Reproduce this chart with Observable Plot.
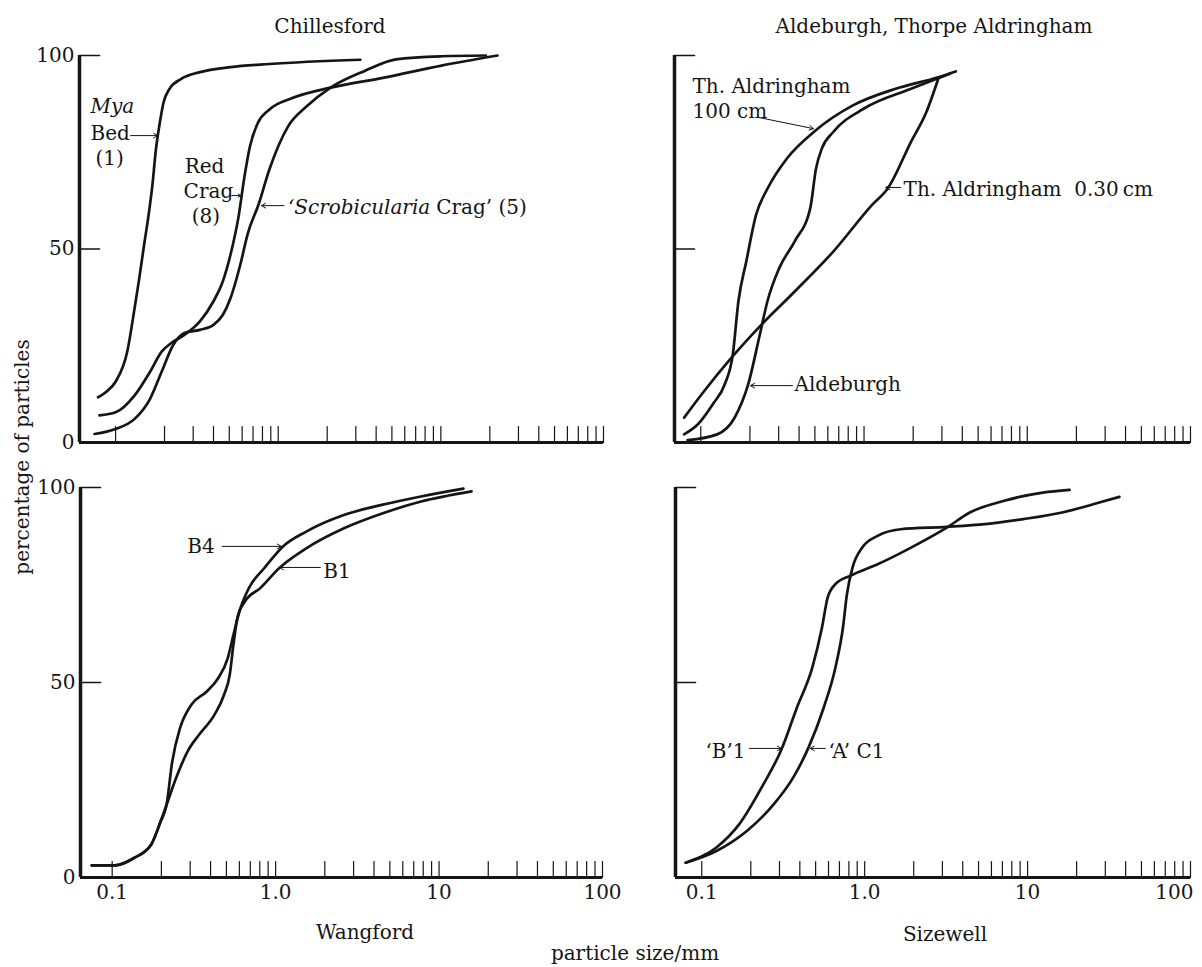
<!DOCTYPE html>
<html>
<head>
<meta charset="utf-8">
<script src="https://cdn.jsdelivr.net/npm/d3@7"></script>
<script src="https://cdn.jsdelivr.net/npm/@observablehq/plot@0.6"></script>
<style>
  html, body { margin: 0; padding: 0; background: #fff; }
  #wrap { position: relative; width: 1202px; height: 967px; overflow: hidden; background: #fff;
          font-family: "DejaVu Serif", serif; color: #151515; }
  .t { position: absolute; font-size: 20px; line-height: 20px; white-space: nowrap; transform: translateX(-50%); }
  .rot { position: absolute; font-size: 20px; line-height: 20px; white-space: nowrap;
         transform: translate(-50%, -50%) rotate(-90deg); }
  .panel { position: absolute; }
</style>
</head>
<body>
<div id="wrap"></div>
<script>
// ---------- axis ticks and labels ----------
const xMinorTicks = [0.1, 0.2, 0.3, 0.4, 0.5, 0.6, 0.7, 0.8, 0.9,
                     1, 2, 3, 4, 5, 6, 7, 8, 9,
                     10, 20, 30, 40, 50, 60, 70, 80, 90, 100];
const xLabelTicks = [0.1, 1, 10, 100];
const xTickLabels = ["0.1", "1.0", "10", "100"];
const yTicks = [0, 50, 100];
const yTickLabels = ["0", "50", "100"];
const yInnerTicks = [50, 100];

// ---------- Chillesford (particle size mm, cumulative %) ----------
const myaBed = [[0.078,11.7],[0.087,13],[0.1,15.7],[0.118,23.5],[0.131,34.8],[0.139,41.7],[0.15,51.3],
  [0.159,58.3],[0.168,66.1],[0.177,75.7],[0.187,82.6],[0.197,87.8],[0.214,91.3],[0.252,93.9],
  [0.33,95.7],[0.51,97],[0.88,97.8],[3.2,98.9]];
const redCrag = [[0.0796,7],[0.1,7.8],[0.131,12.2],[0.163,18.3],[0.192,23.5],[0.22,25.7],[0.265,27.8],
  [0.33,31.3],[0.4,36.5],[0.457,41.7],[0.51,48.7],[0.57,58.3],[0.62,68.7],[0.67,76.5],[0.75,82.6],
  [0.88,86],[1.22,89],[2.1,91.7],[4.48,94.3],[10.1,97.4],[22.3,100]];
const scrobCrag = [[0.0742,2.2],[0.1,3.5],[0.131,6.1],[0.163,11.3],[0.192,18.3],[0.226,25.2],[0.265,28.3],
  [0.33,29.1],[0.4,30.4],[0.457,33],[0.51,37.4],[0.585,46],[0.65,54],[0.76,61.7],[0.88,70.4],
  [1.15,81.7],[1.51,87],[2.1,91.7],[3.4,96],[5.3,99],[10.1,99.8],[18.9,100]];

// ---------- Aldeburgh, Thorpe Aldringham ----------
const aldr100 = [[0.079,2.1],[0.096,4.7],[0.119,10],[0.14,15],[0.157,22.7],[0.17,36.5],[0.19,46.8],
  [0.218,58.8],[0.257,65.7],[0.337,73.4],[0.494,80.3],[0.855,87.1],[1.56,91.4],[2.85,94.4],[3.65,95.9]];
const aldeburgh = [[0.083,0.6],[0.126,2.1],[0.161,6.4],[0.195,15],[0.23,27.9],[0.256,36.5],[0.302,45],
  [0.376,52],[0.468,60.5],[0.508,70.8],[0.552,76],[0.65,80.3],[1.0,86.3],[1.94,91.4],[3.36,95.3]];
const aldr030 = [[0.079,6.4],[0.101,12.4],[0.157,22.3],[0.23,30],[0.376,39],[0.65,49.4],[1.12,61.4],
  [1.4,65.7],[1.94,77.7],[2.41,85.4],[2.85,94]];

// ---------- Wangford ----------
const wangB4 = [[0.075,3.1],[0.104,3.1],[0.136,5],[0.173,8.4],[0.198,14.4],[0.215,18.6],
  [0.233,29.7],[0.26,38.3],[0.305,44.3],[0.379,47.7],[0.445,51.1],[0.509,56.2],[0.552,62.2],
  [0.6,68.2],[0.686,74.2],[0.851,79.3],[1.11,84.9],[1.54,88.7],[2.64,93],[4.53,95.6],[7.76,97.7],[14.1,99.7]];
const wangB1 = [[0.075,3.1],[0.104,3.1],[0.136,5],[0.173,8.4],[0.198,14.4],[0.215,18.6],
  [0.246,25.5],[0.289,32.3],[0.34,36.6],[0.422,41.7],[0.483,46.8],[0.524,52],[0.552,59.7],
  [0.583,66.5],[0.65,70.8],[0.805,74.2],[1.05,79.3],[1.54,84.4],[2.64,89.6],[4.53,93.4],[7.76,96.4],[15.8,99]];

// ---------- Sizewell ----------
const sizeB1 = [[0.0796,3.8],[0.123,7.7],[0.17,13.7],[0.236,23.5],[0.309,32.9],[0.384,43.6],[0.477,53.8],
  [0.547,64.1],[0.593,71.8],[0.661,75.2],[0.821,77.4],[1.2,80.3],[1.85,84.2],[3.19,89.7],[4.42,93.6],
  [7.19,96.6],[12.4,98.7],[18.1,99.4]];
const sizeAC1 = [[0.0796,3.8],[0.123,6.8],[0.19,12],[0.277,18.8],[0.364,25.6],[0.452,33.3],[0.561,43.6],
  [0.661,53.8],[0.736,64.1],[0.778,72.6],[0.843,79.5],[0.966,84.6],[1.2,87.6],[1.66,89.3],[3.19,89.9],
  [5.48,90.6],[9.44,91.9],[16.3,93.6],[27.9,96.2],[36.6,97.6]];

// ---------- curve annotations (data coordinates) ----------
const notesTL = {
  italic: [{x: 0.0701, y: 86.8, t: "Mya"}, {x: 1.147, y: 60.7, t: "\u2018Scrobicularia"}],
  normal: [{x: 0.0701, y: 79.9, t: "Bed"}, {x: 0.0753, y: 73.4, t: "(1)"},
           {x: 0.266, y: 71.3, t: "Red"}, {x: 0.262, y: 64.9, t: "Crag"}, {x: 0.294, y: 58.4, t: "(8)"},
           {x: 9.36, y: 60.7, t: "Crag\u2019 (5)"}],
  arrows: [{x1: 0.1237, y1: 79.3, x2: 0.1815, y2: 79.3},
           {x1: 0.518, y1: 63.8, x2: 0.589, y2: 63.8},
           {x1: 1.084, y1: 61.2, x2: 0.79, y2: 61.2}]
};
const notesTR = {
  italic: [],
  normal: [{x: 0.0889, y: 92, t: "Th. Aldringham"}, {x: 0.0889, y: 85.5, t: "100 cm"},
           {x: 1.746, y: 65.4, t: "Th. Aldringham\u00a0\u00a00.30\u2009cm"},
           {x: 0.375, y: 15, t: "Aldeburgh"}],
  arrows: [{x1: 0.2257, y1: 84, x2: 0.49, y2: 81.1},
           {x1: 1.673, y1: 65.9, x2: 1.36, y2: 65.9},
           {x1: 0.3646, y1: 14.7, x2: 0.2016, y2: 14.7}]
};
const notesBL = {
  italic: [],
  normal: [{x: 0.288, y: 84.9, t: "B4"}, {x: 1.959, y: 78.5, t: "B1"}],
  arrows: [{x1: 0.4717, y1: 84.9, x2: 1.084, y2: 84.9},
           {x1: 1.878, y1: 79.5, x2: 1.053, y2: 79.5}]
};
const notesBR = {
  italic: [],
  normal: [{x: 0.1053, y: 32.3, t: "\u2018B\u20191"}, {x: 0.6, y: 32.3, t: "\u2018A\u2019 C1"}],
  arrows: [{x1: 0.196, y1: 33.1, x2: 0.3078, y2: 33.1},
           {x1: 0.573, y1: 33.1, x2: 0.4634, y2: 33.1}]
};

// ---------- drawing ----------
const ink = "#151515";
const tickShape = {draw(context, l) { context.moveTo(0, 0); context.lineTo(0, -l); }};

function panel({left, top, width, height, ml, mr, mt, mb, xDomain, series, notes, yLabels, xLabels, lastLabelEnd}) {
  const marks = [
    Plot.vector(xMinorTicks, {x: d => d, y: 0, length: 16, anchor: "start", shape: tickShape,
                              stroke: ink, strokeWidth: 1.2}),
    Plot.vector(yInnerTicks, {x: xDomain[0], y: d => d, length: 20, rotate: 90, anchor: "start",
                              shape: tickShape, stroke: ink, strokeWidth: 1.6}),
    Plot.ruleY([0], {stroke: ink, strokeWidth: 3}),
    Plot.ruleX([xDomain[0]], {stroke: ink, strokeWidth: 3.5}),
    ...series.map(s => Plot.line(s, {x: d => d[0], y: d => d[1], curve: "monotone-x",
                                     stroke: ink, strokeWidth: 2.7})),
    Plot.arrow(notes.arrows, {x1: "x1", y1: "y1", x2: "x2", y2: "y2", stroke: ink, strokeWidth: 1,
                              headLength: 7, bend: 0}),
    Plot.text(notes.normal, {x: "x", y: "y", text: "t", textAnchor: "start", fontSize: 20, fill: ink}),
    Plot.text(notes.italic, {x: "x", y: "y", text: "t", textAnchor: "start", fontSize: 20, fill: ink,
                             fontStyle: "italic"})
  ];
  if (yLabels) marks.push(Plot.text(yTicks, {x: xDomain[0], y: d => d, text: (d, i) => yTickLabels[i],
                                             textAnchor: "end", dx: -5, fontSize: 20, fill: ink}));
  if (xLabels) {
    const n = xLabelTicks.length;
    const inner = lastLabelEnd ? xLabelTicks.slice(0, n - 1) : xLabelTicks;
    marks.push(Plot.text(inner, {x: d => d, y: 0, text: (d, i) => xTickLabels[i],
                                 dy: 15, fontSize: 20, fill: ink}));
    if (lastLabelEnd) marks.push(Plot.text(xLabelTicks.slice(n - 1), {x: d => d, y: 0,
                                 text: () => xTickLabels[n - 1], textAnchor: "end", dx: 3,
                                 dy: 15, fontSize: 20, fill: ink}));
  }
  const svg = Plot.plot({
    width, height, marginLeft: ml, marginRight: mr, marginTop: mt, marginBottom: mb,
    x: {type: "log", domain: xDomain, axis: null},
    y: {domain: [0, 100], axis: null},
    style: {fontFamily: "DejaVu Serif, serif", fontSize: "20px", background: "none", overflow: "visible", color: ink},
    marks
  });
  const div = document.createElement("div");
  div.className = "panel";
  div.style.left = left + "px";
  div.style.top = top + "px";
  div.appendChild(svg);
  return div;
}

const wrap = document.getElementById("wrap");
wrap.appendChild(panel({left: 0, top: 0, width: 640, height: 460, ml: 79, mr: 37, mt: 55, mb: 18,
  xDomain: [0.06, 100], series: [myaBed, redCrag, scrobCrag], notes: notesTL, yLabels: true, xLabels: false}));
wrap.appendChild(panel({left: 640, top: 0, width: 562, height: 460, ml: 34, mr: 12, mt: 55, mb: 18,
  xDomain: [0.069, 100], series: [aldr100, aldeburgh, aldr030], notes: notesTR, yLabels: false, xLabels: false}));
wrap.appendChild(panel({left: 0, top: 460, width: 640, height: 507, ml: 80, mr: 38, mt: 27, mb: 90,
  xDomain: [0.064, 100], series: [wangB4, wangB1], notes: notesBL, yLabels: true, xLabels: true}));
wrap.appendChild(panel({left: 640, top: 460, width: 562, height: 507, ml: 35, mr: 12, mt: 27, mb: 90,
  xDomain: [0.069, 100], series: [sizeB1, sizeAC1], notes: notesBR, yLabels: false, xLabels: true,
  lastLabelEnd: true}));

// ---------- titles ----------
const titles = [
  {t: "Chillesford", x: 330, y: 16},
  {t: "Aldeburgh, Thorpe Aldringham", x: 934, y: 16},
  {t: "Wangford", x: 365, y: 922},
  {t: "Sizewell", x: 945, y: 924},
  {t: "particle size/mm", x: 635, y: 943}
];
for (const d of titles) {
  const el = document.createElement("div");
  el.className = "t";
  el.textContent = d.t;
  el.style.left = d.x + "px";
  el.style.top = d.y + "px";
  wrap.appendChild(el);
}
const yTitle = document.createElement("div");
yTitle.className = "rot";
yTitle.textContent = "percentage of particles";
yTitle.style.left = "22px";
yTitle.style.top = "457px";
wrap.appendChild(yTitle);
</script>
</body>
</html>
